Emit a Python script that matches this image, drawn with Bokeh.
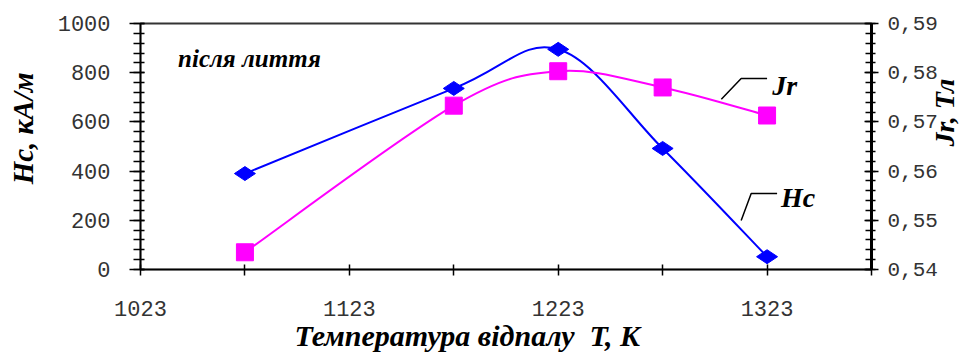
import math
import numpy as np
from bokeh.plotting import figure
from bokeh.models import Range1d, LinearAxis, FixedTicker, Label, Title
from bokeh.embed import file_html
from bokeh.resources import INLINE

# ---- data ----
temperature = [1073, 1173, 1223, 1273, 1323]
hc_values = [390, 736, 895, 492, 52]
jr_values = [0.5435, 0.5733, 0.5803, 0.5770, 0.5713]

x_ticks = [1023, 1073, 1123, 1173, 1223, 1273, 1323, 1373]
x_tick_labels = ["1023", "", "1123", "", "1223", "", "1323", ""]
hc_ticks = [0, 200, 400, 600, 800, 1000]
hc_tick_labels = ["0", "200", "400", "600", "800", "1000"]
jr_ticks = [0.54, 0.55, 0.56, 0.57, 0.58, 0.59]
jr_tick_labels = ["0,54", "0,55", "0,56", "0,57", "0,58", "0,59"]

title_x = "Температура відпалу\u00a0\u00a0T, K"
title_left = "Hc, кА/м"
title_right = "Jr, Тл"
note_text = "після лиття"

MONO = "Liberation Mono"
SERIF = "Liberation Serif"

p = figure(width=978, height=356, output_backend="svg", toolbar_location=None,
           x_range=Range1d(1023, 1373), y_range=Range1d(0, 1000),
           min_border_left=140, min_border_right=105,
           min_border_top=23, min_border_bottom=87)
p.extra_y_ranges = {"jr": Range1d(0.54, 0.59)}
p.xgrid.visible = False
p.ygrid.visible = False
p.outline_line_color = "#333333"
p.outline_line_width = 2
p.background_fill_color = "white"
p.border_fill_color = "white"


def smooth(xs, ys):
    n = len(xs)
    seg = dict(x0=[], y0=[], x1=[], y1=[], cx0=[], cy0=[], cx1=[], cy1=[])
    for i in range(n - 1):
        a = i - 1 if i > 0 else i
        d = i + 2 if i + 2 < n else i + 1
        seg["x0"].append(xs[i]); seg["y0"].append(ys[i])
        seg["x1"].append(xs[i + 1]); seg["y1"].append(ys[i + 1])
        seg["cx0"].append(xs[i] + (xs[i + 1] - xs[a]) / 6)
        seg["cy0"].append(ys[i] + (ys[i + 1] - ys[a]) / 6)
        seg["cx1"].append(xs[i + 1] - (xs[d] - xs[i]) / 6)
        seg["cy1"].append(ys[i + 1] - (ys[d] - ys[i]) / 6)
    return seg


hc_seg = smooth(temperature, hc_values)
jr_seg = smooth(temperature, jr_values)

p.bezier(**hc_seg, line_color="#0000FF", line_width=2)
p.bezier(**jr_seg, line_color="#FF00FF", line_width=2, y_range_name="jr")

p.scatter(temperature, hc_values, marker="diamond", angle=math.pi / 2, size=21,
          fill_color="#0000FF", line_color="#0000FF")
p.scatter(temperature, jr_values, marker="square", size=17,
          fill_color="#FF00FF", line_color="#FF00FF", y_range_name="jr")

# ---- axes ----
xa = p.xaxis[0]
xa.ticker = FixedTicker(ticks=x_ticks, minor_ticks=[])
xa.major_label_overrides = {t: l for t, l in zip(x_ticks, x_tick_labels)}
xa.major_tick_in = 5
xa.major_tick_out = 6
xa.minor_tick_in = 0
xa.minor_tick_out = 0
xa.major_label_standoff = 25
xa.axis_line_width = 1.5
xa.major_tick_line_width = 1.5

ya = p.yaxis[0]
ya.ticker = FixedTicker(ticks=hc_ticks, minor_ticks=list(np.arange(0, 1001, 40)))
ya.major_label_overrides = {t: l for t, l in zip(hc_ticks, hc_tick_labels)}
ya.major_tick_in = 4
ya.major_tick_out = 11
ya.minor_tick_in = 4
ya.minor_tick_out = 7
ya.major_label_standoff = 19
ya.axis_line_width = 1.5
ya.major_tick_line_width = 1.5
ya.minor_tick_line_width = 1.5
ya.axis_label = "\u00a0" * 5 + title_left
ya.axis_label_standoff = 16

ra = LinearAxis(y_range_name="jr")
ra.ticker = FixedTicker(ticks=jr_ticks,
                        minor_ticks=[round(v, 3) for v in np.arange(0.54, 0.5901, 0.002)])
ra.major_label_overrides = {t: l for t, l in zip(jr_ticks, jr_tick_labels)}
ra.major_tick_in = 7
ra.major_tick_out = 7
ra.minor_tick_in = 6
ra.minor_tick_out = 4
ra.major_label_standoff = 9
ra.axis_line_width = 3
ra.major_tick_line_width = 1.5
ra.minor_tick_line_width = 1.5
ra.axis_label = title_right
ra.axis_label_standoff = 4
ra.axis_label_orientation = math.pi / 2
p.add_layout(ra, "right")

for ax in (xa, ya, ra):
    ax.major_label_text_font = MONO
    ax.major_label_text_font_size = "22px"
    ax.major_label_text_color = "#333333"
    ax.axis_line_color = "black"
    ax.major_tick_line_color = "black"
    ax.minor_tick_line_color = "black"
    ax.axis_label_text_font = SERIF
    ax.axis_label_text_font_style = "bold italic"
    ax.axis_label_text_font_size = "29px"
    ax.axis_label_text_line_height = 1.0
    ax.axis_label_text_color = "black"
ra.major_label_text_font_size = "21px"
ra.axis_label_text_font_size = "28px"

p.add_layout(Title(text=title_x, align="left", offset=154, vertical_align="bottom",
                   standoff=-4, text_font=SERIF, text_font_style="bold italic",
                   text_font_size="30px", text_line_height=1.0,
                   text_color="black"), "below")


# ---- notes inside the plot ----
def lab(text, x, y, size, rng="default"):
    p.add_layout(Label(x=x, y=y, text=text, text_align="left",
                       text_baseline="middle", text_font=SERIF,
                       text_font_style="bold italic", text_font_size=size,
                       text_color="black", y_range_name=rng))


lab(note_text, 1041, 858, "25px")
lab("Jr", 1325.5, 0.5774, "28px", rng="jr")
lab("Hc", 1329.7, 293, "28px")

# leader lines for series labels
p.line([1301.1, 1310.6, 1323.0], [0.5746, 0.5788, 0.5788], line_color="black",
       line_width=1.5, y_range_name="jr")
p.line([1310.6, 1315.4, 1327.8], [199, 309, 309], line_color="black", line_width=1.5)

open("out.html", "w").write(file_html(p, INLINE))
